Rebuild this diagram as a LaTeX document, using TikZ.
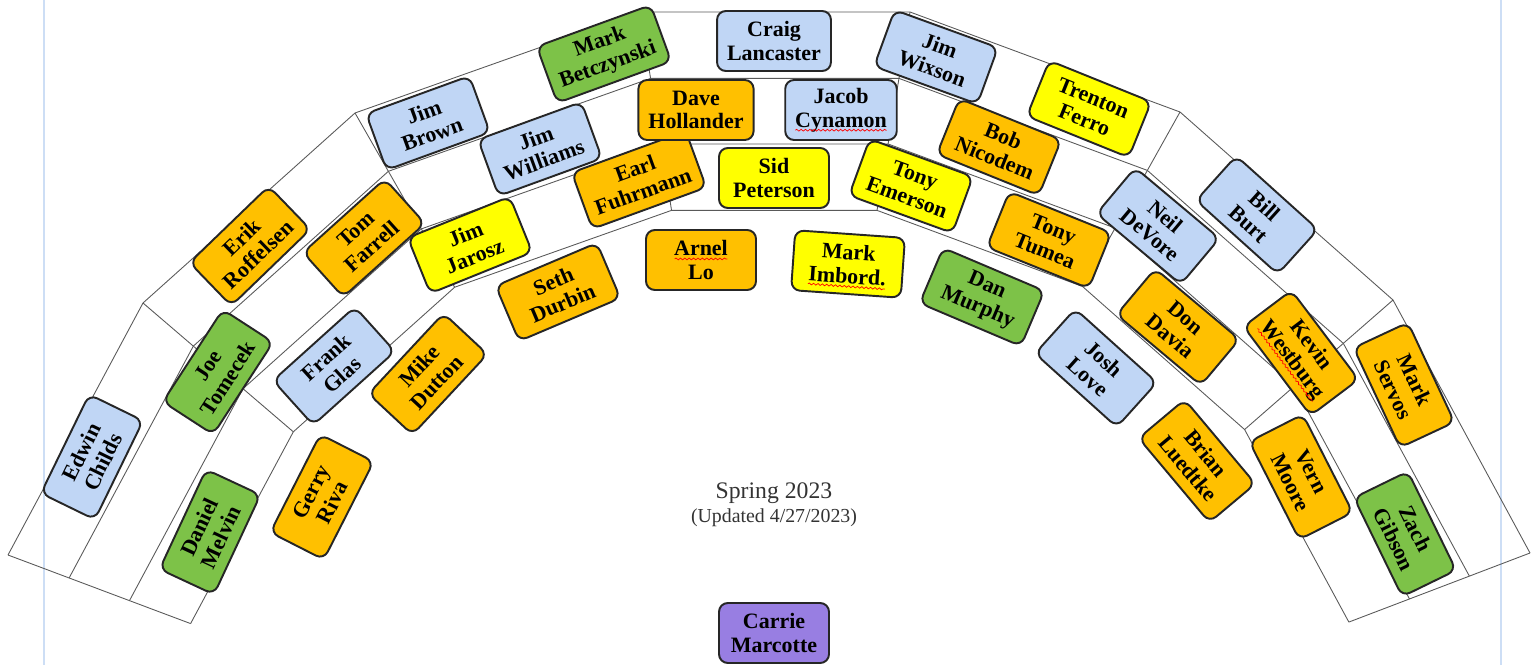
\documentclass[tikz,border=0pt]{standalone}
\usepackage{fontspec}
\setmainfont{Liberation Serif}
\usetikzlibrary{calc,decorations.pathmorphing}

\definecolor{seatblue}{RGB}{192,214,245}
\definecolor{seatorange}{RGB}{255,192,0}
\definecolor{seatyellow}{RGB}{255,255,0}
\definecolor{seatgreen}{RGB}{125,194,72}
\definecolor{seatpurple}{RGB}{152,126,226}
\definecolor{pagemargin}{RGB}{205,222,245}

\begin{document}
\begin{tikzpicture}[x=0.02cm, y=-0.02cm,
    riser/.style={draw=black!65, line width=0.5pt},
    seat/.style={draw=black!85, line width=1.1pt, rounded corners=5pt,
      minimum width=2.2cm, minimum height=1.2cm, inner xsep=0.2cm, inner ysep=0pt,
      align=center, font=\fontsize{12.5}{13.5}\selectfont\bfseries},
    bluetag/.style={seat, fill=seatblue},
    orangetag/.style={seat, fill=seatorange},
    yellowtag/.style={seat, fill=seatyellow},
    greentag/.style={seat, fill=seatgreen},
    purpletag/.style={seat, fill=seatpurple},
    spell/.style={draw=red, line width=0.4pt, decorate,
      decoration={snake, amplitude=0.5pt, segment length=2.5pt}}]
  \useasboundingbox (0,0) rectangle (1534,665);

  % page margins
  \draw[pagemargin, line width=0.6pt] (44,0) -- (44,665);
  \draw[pagemargin, line width=0.6pt] (1501,0) -- (1501,665);

  % risers
  \coordinate (c) at (772,842);
  \coordinate (o0) at (8,555);
  \coordinate (o1) at (143,303);
  \coordinate (o2) at (355,113);
  \coordinate (o3) at (640,12);
  \coordinate (o4) at (910,12);
  \coordinate (o5) at (1180,112);
  \coordinate (o6) at (1393,300);
  \coordinate (o7) at (1530,553);

  \draw[riser] (o0) -- (o1) -- (o2) -- (o3) -- (o4) -- (o5) -- (o6) -- (o7);
  \draw[riser] ($(c)!.920!(o0)$) -- ($(c)!.920!(o1)$) -- ($(c)!.920!(o2)$) -- ($(c)!.920!(o3)$)
    -- ($(c)!.920!(o4)$) -- ($(c)!.920!(o5)$) -- ($(c)!.920!(o6)$) -- ($(c)!.920!(o7)$);
  \draw[riser] ($(c)!.841!(o0)$) -- ($(c)!.841!(o1)$) -- ($(c)!.841!(o2)$) -- ($(c)!.841!(o3)$)
    -- ($(c)!.841!(o4)$) -- ($(c)!.841!(o5)$) -- ($(c)!.841!(o6)$) -- ($(c)!.841!(o7)$);
  \draw[riser] ($(c)!.761!(o0)$) -- ($(c)!.761!(o1)$) -- ($(c)!.761!(o2)$) -- ($(c)!.761!(o3)$)
    -- ($(c)!.761!(o4)$) -- ($(c)!.761!(o5)$) -- ($(c)!.761!(o6)$) -- ($(c)!.761!(o7)$);
  \draw[riser] (o0) -- ($(c)!.761!(o0)$);
  \draw[riser] (o1) -- ($(c)!.761!(o1)$);
  \draw[riser] (o2) -- ($(c)!.761!(o2)$);
  \draw[riser] (o3) -- ($(c)!.761!(o3)$);
  \draw[riser] (o4) -- ($(c)!.761!(o4)$);
  \draw[riser] (o5) -- ($(c)!.761!(o5)$);
  \draw[riser] (o6) -- ($(c)!.761!(o6)$);
  \draw[riser] (o7) -- ($(c)!.761!(o7)$);

  % left end
  \node[bluetag, rotate=64] (edwin) at (92,457) {Edwin\\Childs};
  \node[greentag, rotate=57] (joe) at (218,372) {Joe\\Tomecek};
  \node[greentag, rotate=65] (daniel) at (210,532) {Daniel\\Melvin};
  \node[orangetag, rotate=63] (gerry) at (322,497) {Gerry\\Riva};
  \node[orangetag, rotate=44] (erik) at (250,246) {Erik\\Roffelsen};
  \node[orangetag, rotate=42] (tom) at (364,238) {Tom\\Farrell};
  \node[bluetag, rotate=42] (frank) at (334,366) {Frank\\Glas};
  \node[orangetag, rotate=47] (mike) at (428,374) {Mike\\Dutton};
  \node[bluetag, rotate=20] (jimb) at (428,123) {Jim\\Brown};
  \node[yellowtag, rotate=22] (jimj) at (470,245) {Jim\\Jarosz};
  \node[bluetag, rotate=20] (jimw) at (540,149) {Jim\\Williams};
  \node[orangetag, rotate=23] (seth) at (558,292) {Seth\\Durbin};
  \node[greentag, rotate=20] (markb) at (604,54) {Mark\\Betczynski};
  \node[orangetag, rotate=20] (earl) at (639,180) {Earl\\Fuhrmann};

  % middle
  \node[bluetag] (craig) at (774,41) {Craig\\Lancaster};
  \node[orangetag] (dave) at (696,110) {Dave\\Hollander};
  \node[bluetag] (jacob) at (841,110) {Jacob\\Cynamon};
  \node[yellowtag] (sid) at (774,178) {Sid\\Peterson};
  \node[orangetag] (arnel) at (701,260) {Arnel\\Lo};
  \node[yellowtag, rotate=-4] (marki) at (848,264) {Mark\\Imbord.};

  % right end
  \node[bluetag, rotate=-20] (jimx) at (936,57) {Jim\\Wixson};
  \node[yellowtag, rotate=-20] (tonye) at (911,186) {Tony\\Emerson};
  \node[yellowtag, rotate=-22] (trenton) at (1089,109) {Trenton\\Ferro};
  \node[orangetag, rotate=-22] (bob) at (999,147) {Bob\\Nicodem};
  \node[orangetag, rotate=-22] (tonyt) at (1049,240) {Tony\\Tumea};
  \node[greentag, rotate=-23] (dan) at (982,297) {Dan\\Murphy};
  \node[bluetag, rotate=-40] (neil) at (1158,226) {Neil\\DeVore};
  \node[bluetag, rotate=-42] (bill) at (1257,215) {Bill\\Burt};
  \node[bluetag, rotate=-42] (josh) at (1096,368) {Josh\\Love};
  \node[orangetag, rotate=-40] (don) at (1178,327) {Don\\Davia};
  \node[orangetag, rotate=-53] (kevin) at (1301,353) {Kevin\\Westburg};
  \node[orangetag, rotate=-50] (brian) at (1197,461) {Brian\\Luedtke};
  \node[orangetag, rotate=-65] (marks) at (1404,385) {Mark\\Servos};
  \node[orangetag, rotate=-63] (vern) at (1301,477) {Vern\\Moore};
  \node[greentag, rotate=-64] (zach) at (1405,534) {Zach\\Gibson};

  % spell-check marks
  \begin{scope}[shift={(jacob.center)}]
    \draw[spell] (-26pt,-11.5pt) -- (26pt,-11.5pt);
  \end{scope}
  \begin{scope}[shift={(arnel.center)}]
    \draw[spell] (-15pt,0.6pt) -- (15pt,0.6pt);
  \end{scope}
  \begin{scope}[shift={(marki.center)}, rotate=-4]
    \draw[spell] (-22pt,-12.8pt) -- (22pt,-12.8pt);
  \end{scope}
  \begin{scope}[shift={(kevin.center)}, rotate=-53]
    \draw[spell] (-26pt,-11.5pt) -- (26pt,-11.5pt);
  \end{scope}

  % title and director
  \node[font=\fontsize{13.5}{15}\selectfont, text=black!80] (title) at (774,493) {Spring 2023};
  \node[font=\fontsize{11.3}{13}\selectfont, text=black!80] (updated) at (774,518) {(Updated 4/27/2023)};
  \node[purpletag] (carrie) at (774,633) {Carrie\\Marcotte};
\end{tikzpicture}
\end{document}
